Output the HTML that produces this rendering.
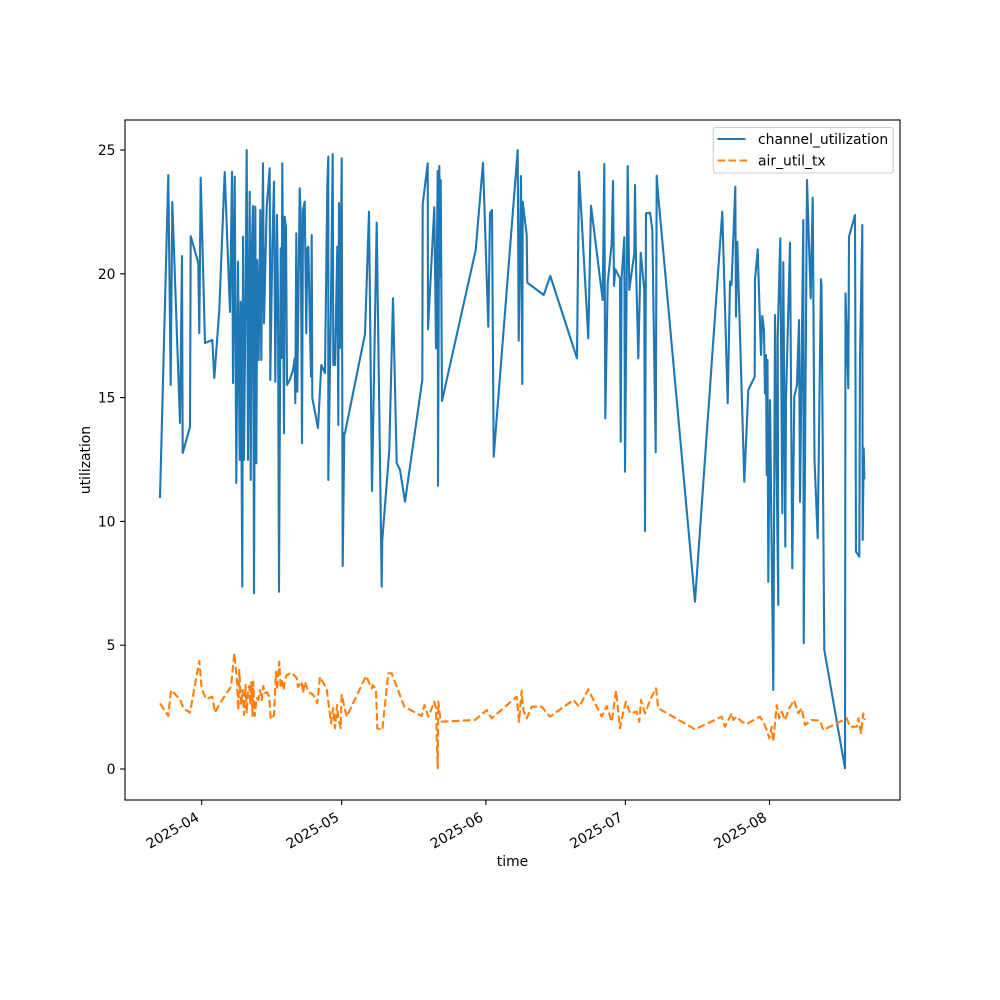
<!DOCTYPE html>
<html>
<head>
<meta charset="utf-8">
<style>
  html,body{margin:0;padding:0;background:#fff;}
  svg{display:block;}
  text{font-family:"DejaVu Sans","Liberation Sans",sans-serif;fill:#000;}
</style>
</head>
<body>
<svg width="1000" height="1000" viewBox="0 0 1000 1000" xmlns="http://www.w3.org/2000/svg">
  <rect x="0" y="0" width="1000" height="1000" fill="#fff"/>

  <!-- series -->
  <g clip-path="url(#clip)">
    <polyline fill="none" stroke="#1f77b4" stroke-width="2.1" stroke-linejoin="round" stroke-linecap="square"
      points="160,497 162,420 168.3,175 170.7,385 172.3,202 180,423 182,256 182.7,453 190,427 190.7,236 198.3,263 199.3,333 200.7,177.7 205,343 212.3,340 214.3,378 219.3,310 224.7,172 230,312
      232,171.7 233,383 234.7,176.7 236.3,483 238,261.7 239.7,460 240.7,301.7 242.3,586.7 243,236.7 244,460 245.7,270 246.7,150 248,460 249.7,191.7 250.7,480 252,241.7 253,206 254,593.3 255.3,206.7 256.3,463.3 257.3,260 258.7,360 260.3,210 261.3,360 263,163.3 264,323.3 266.7,207 269.7,168.3 270.3,380 272.3,247 274,181.7 275.3,381.7 277,215 278,300 279,591.7 280.7,248.3 281.5,358 282.3,163.3 284,433.3 284.7,216.7 286,228 287,385 289.7,380 293,370 294.7,358.3 295.3,403.3 296.3,233.3 297.3,391.7 299.7,188.3 300.7,215 302,443.3 303,210 304.7,201.7 306.3,333.3 307.3,248.3
      308.3,246.7 311,376.7 311.7,235 312.3,398 318,428 321.3,365 325,373 327.3,186 328.3,156.7 328.3,480 331,300 332.7,154 333.3,365 335,365 337.3,246.7 338.3,425 339,203 340,348 341.7,158.3 342.7,566 344.3,433
      345,433 365,334 369,211.7 372,491 376.7,222.7 381.7,586.7 382.3,540 389.3,450 393,298.3 396.7,463 400,470 405,501.7 422.3,380 422.7,204.3 427.7,163.3 428,329.3 434.3,207.3 436,348.3 437.7,171 438,485.7 439.3,166 440.3,277 440.7,180 442,401 475.7,250 483,162.7 488.3,326.7 490,213.3 492,210 493.7,456.7 517.7,150 518.7,340.7 521,176 522.3,384 522.7,201.7 526.7,235 527.3,282.7 543.7,295 550.3,276 577,358.3 579,171.7 588.3,338.3 591,205.7 602.7,300 604.3,164 605.3,418.3 607.7,283.3 611.7,243.3 613,181 614,286 615.3,269.3 620,278.3 620.7,441.7 621.5,280 624.3,237.3 625,471.7 627.7,166 629.3,290
      634.3,253.3 635,185 636,265 638.3,358.3 640.7,252.7 644.3,290 645,531 646,213.3 650,212.7 652.3,230 655.7,452.3 656.7,175.7 658.3,196.7 695,601.7 722.3,211.7 727.7,403.3 730,281.7 731.5,285 735.3,186.7 736,316.7 737.3,241.7 744.3,481.7 748.3,390 754.7,376.7 755,280 757.7,249.3 761,355 762.3,316 764,330 765,393.3 766,355 766.7,475 767.5,360 768.3,581.7 770,400 773.3,690 775,315 776,420 778.3,605 777.7,336.7 780.3,238.3 782.3,513.3 783.3,262.3 785.3,546.7 786,400 790,242.7 792.3,568.3 794.3,396.7 797,385 799,320 800,501.7 803.3,220 803.7,643.3 807,180 810.7,298.3 812.7,197.7 814.5,460 817.7,538.3 821,279.3 821.5,285 824.3,650 845,768.3 845.5,293.3 848.3,388.3 849,236.7 855,215 856,551.7 859.3,556.7 860,358.3 862.3,225 862.7,540 863.7,448.3 864.3,478.3"/>
    <polyline fill="none" stroke="#ff7f0e" stroke-width="2.1" stroke-dasharray="7.7,3.3" stroke-linejoin="round"
      points="160,703.3 168.3,716 171,690 180,699.3 183.3,708.3 190,712.7 199.3,661 201.7,688.3 206,699 212.3,696.7 215,712.7 220,703 231,686.7 234.3,653.3 236.7,676.7 238.3,710 239.3,670 241,705 242.7,690 244,715 245.5,685 246.7,713.3 248,690 249.3,686 250.3,705 251.3,682 252.5,716 253.3,681.7 254.7,716 256.7,698 258.3,700 260,690 261.7,700 263.3,686 265,693 266.7,692 269.3,696.7 270.7,719.3 274,715 276,671.7 277,690 279.3,661.7 280.5,686 282,681 283.5,690 285,680 286.7,675 291.7,672.7 296.7,678 298,687 301.7,681.7 303,693 305,682 308.3,691.7 313.3,695 317.3,703.3 320,676.7 326.7,689.3 331,723.3 333,708 335,728.3 337,705 338.3,718 340.7,728.3 341.7,695 346.7,716.7 366,676 371.7,688.3 372.7,685 376,689.3 377.3,728.3 382.3,730 388.3,673.3 391.7,673.3 404.3,706.7 421.7,716 424.5,705 428.3,716.7 434.3,701.7 436,708 437.7,768.3 438.3,701.7 440.7,721.7 475,720 486.7,710 491.7,718.3 516.7,696.7 519,721.7 521.7,690.7 523.3,710 526.7,718.3 531.7,706.7 541.7,706.7 550,716.7 573.3,700 579.3,706.7 588.3,689.3 601.7,716.7 606.7,706 611.7,721.7 616,690.7 620,728.3 623.3,711.7 626,701.7 630,713.3 636.7,711.7 639.3,721.7 641,700 645,713.3 648.3,705 651.7,696.7 656,688.3 658.3,708.3 695,729.3 721.7,716.7 725,726.7 731.7,713.3 733.3,720 736.7,716.7 741.7,721.7 746.7,724 760,716.7 763.3,721.7 766.7,730 769.3,738.3 771.7,726.7 773.3,741.7 776.7,705 779.3,718.3 781.7,711.7 785,720 789.3,708.3 794,700 798.3,713.3 801.7,708.3 805,725 811.7,720 820,720.7 823.3,730 830,726.7 846.7,718.3 850,726.7 856.7,726.7 858.3,718.3 861,733.3 863.3,713.3 865,720"/>
  </g>
  <defs>
    <clipPath id="clip"><rect x="125" y="120" width="775" height="680"/></clipPath>
  </defs>

  <!-- axes frame -->
  <rect x="125" y="120" width="775" height="680" fill="none" stroke="#000" stroke-width="1.1"/>

  <!-- y ticks -->
  <g stroke="#000" stroke-width="1.1">
    <line x1="120.1" y1="769" x2="125" y2="769"/>
    <line x1="120.1" y1="645.2" x2="125" y2="645.2"/>
    <line x1="120.1" y1="521.4" x2="125" y2="521.4"/>
    <line x1="120.1" y1="397.6" x2="125" y2="397.6"/>
    <line x1="120.1" y1="273.8" x2="125" y2="273.8"/>
    <line x1="120.1" y1="150" x2="125" y2="150"/>
  </g>
  <g font-size="13.9" text-anchor="end">
    <text x="115.5" y="774">0</text>
    <text x="115.5" y="650.2">5</text>
    <text x="115.5" y="526.4">10</text>
    <text x="115.5" y="402.6">15</text>
    <text x="115.5" y="278.8">20</text>
    <text x="115.5" y="155">25</text>
  </g>

  <!-- x ticks -->
  <g stroke="#000" stroke-width="1.1">
    <line x1="201.7" y1="800" x2="201.7" y2="804.9"/>
    <line x1="341.7" y1="800" x2="341.7" y2="804.9"/>
    <line x1="485.9" y1="800" x2="485.9" y2="804.9"/>
    <line x1="625.4" y1="800" x2="625.4" y2="804.9"/>
    <line x1="769.5" y1="800" x2="769.5" y2="804.9"/>
  </g>
  <g font-size="13.9" text-anchor="end">
    <text x="200" y="820" transform="rotate(-30 200 820)">2025-04</text>
    <text x="340" y="820" transform="rotate(-30 340 820)">2025-05</text>
    <text x="484.2" y="820" transform="rotate(-30 484.2 820)">2025-06</text>
    <text x="623.7" y="820" transform="rotate(-30 623.7 820)">2025-07</text>
    <text x="767.8" y="820" transform="rotate(-30 767.8 820)">2025-08</text>
  </g>

  <!-- axis labels -->
  <text x="512.5" y="866" font-size="13.9" text-anchor="middle">time</text>
  <text x="90" y="460" font-size="13.9" text-anchor="middle" transform="rotate(-90 90 460)">utilization</text>

  <!-- legend -->
  <rect x="713.3" y="127.3" width="180" height="45.7" rx="2.8" ry="2.8" fill="#fff" fill-opacity="0.8" stroke="#cccccc" stroke-width="1.1"/>
  <line x1="717.5" y1="139" x2="745.5" y2="139" stroke="#1f77b4" stroke-width="2.1"/>
  <line x1="717.5" y1="160.5" x2="747" y2="160.5" stroke="#ff7f0e" stroke-width="2.1" stroke-dasharray="7.7,3.3"/>
  <text x="758" y="144" font-size="13.9">channel_utilization</text>
  <text x="758" y="165.5" font-size="13.9">air_util_tx</text>
</svg>
</body>
</html>
